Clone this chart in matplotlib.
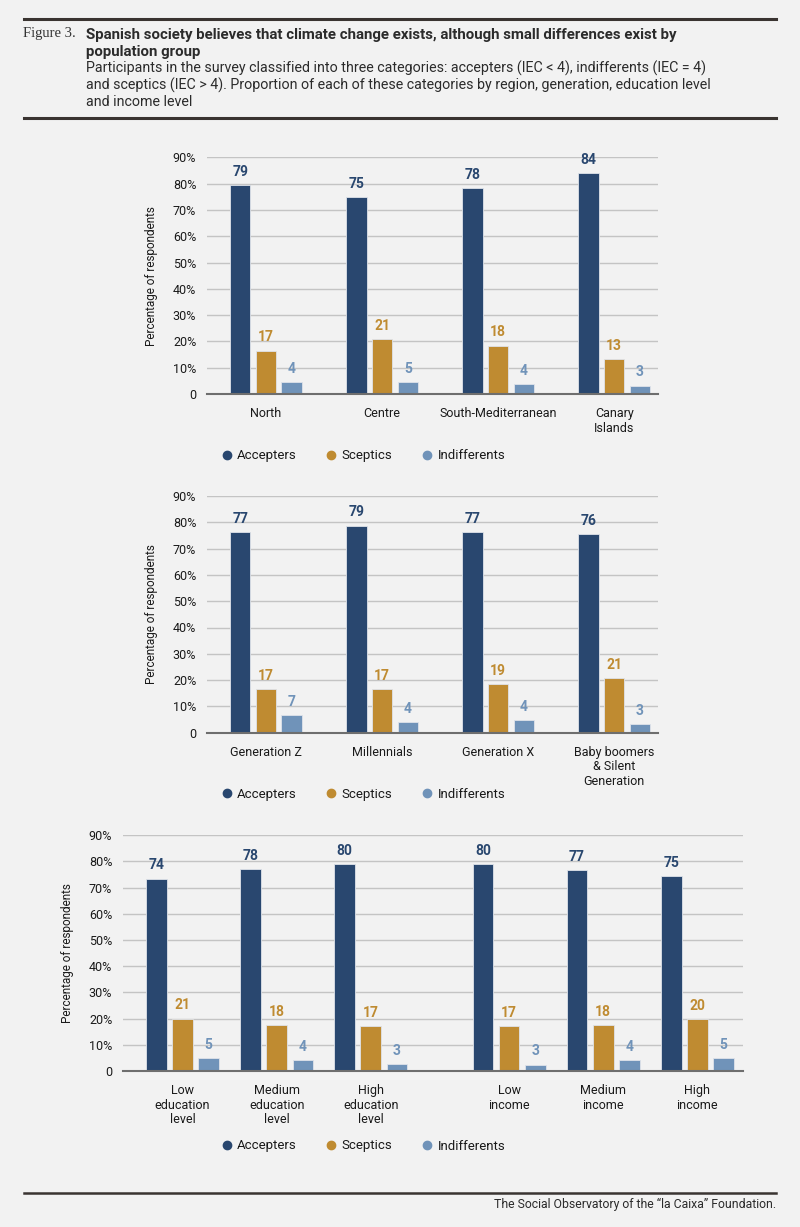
import numpy as np
import matplotlib.pyplot as plt
from matplotlib.lines import Line2D

# colours
c_acc = '#29476f'
c_sce = '#bf8b31'
c_ind = '#7093b9'
bg = '#f2f2f2'
series_names = ['Accepters', 'Sceptics', 'Indifferents']

# --- data (bar heights and the printed labels) ---
regions = ['North', 'Centre', 'South-Mediterranean', 'Canary\nIslands']
reg_acc = [79.5, 75.0, 78.2, 84.0]
reg_sce = [16.5, 20.8, 18.4, 13.4]
reg_ind = [4.4, 4.5, 3.8, 3.2]
reg_lab_acc = [79, 75, 78, 84]
reg_lab_sce = [17, 21, 18, 13]
reg_lab_ind = [4, 5, 4, 3]

generations = ['Generation Z', 'Millennials', 'Generation X',
               'Baby boomers\n& Silent\nGeneration']
gen_acc = [76.2, 78.7, 76.4, 75.5]
gen_sce = [16.6, 16.6, 18.5, 20.7]
gen_ind = [6.7, 4.1, 4.7, 3.2]
gen_lab_acc = [77, 79, 77, 76]
gen_lab_sce = [17, 17, 19, 21]
gen_lab_ind = [7, 4, 4, 3]

edu_inc = ['Low\neducation\nlevel', 'Medium\neducation\nlevel', 'High\neducation\nlevel',
           'Low\nincome', 'Medium\nincome', 'High\nincome']
ei_acc = [73.4, 77.1, 79.0, 79.0, 76.7, 74.3]
ei_sce = [20.0, 17.6, 17.1, 17.1, 17.6, 19.7]
ei_ind = [5.0, 4.1, 2.6, 2.4, 4.1, 5.0]
ei_lab_acc = [74, 78, 80, 80, 77, 75]
ei_lab_sce = [21, 18, 17, 17, 18, 20]
ei_lab_ind = [5, 4, 3, 3, 4, 5]

yticks = [0, 10, 20, 30, 40, 50, 60, 70, 80, 90]

plt.rcParams['font.family'] = ['Roboto', 'DejaVu Sans']

W, H = 800, 1227
fig = plt.figure(figsize=(W / 100, H / 100), dpi=100, facecolor=bg)


def px(x0, y0, x1, y1):
    # pixel box -> figure fraction rect
    return [x0 / W, 1 - y1 / H, (x1 - x0) / W, (y1 - y0) / H]


def draw_panel(rect, xpos, cats, vals, labs, width, step, xlim, leg_y):
    ax = fig.add_axes(rect)
    ax.set_facecolor(bg)
    xpos = np.asarray(xpos, dtype=float)
    colors = [c_acc, c_sce, c_ind]
    for k, (v, lab, col) in enumerate(zip(vals, labs, colors)):
        xs = xpos + (k - 1) * step
        bars = ax.bar(xs, v, width=width, color=col, edgecolor='#dfe3ea',
                      linewidth=0.6, zorder=3)
        for b, t in zip(bars, lab):
            ax.annotate(str(t), (b.get_x() + b.get_width() / 2, b.get_height()),
                        xytext=(0, 4.5), textcoords='offset points',
                        ha='center', va='bottom', fontsize=10, fontweight='bold',
                        color=col)
    ax.set_ylim(0, 90)
    ax.set_xlim(*xlim)
    ax.set_yticks(yticks)
    ax.set_yticklabels(['0' if t == 0 else f'{t}%' for t in yticks])
    ax.set_xticks(xpos)
    ax.set_xticklabels(cats, linespacing=1.15)
    ax.tick_params(axis='both', length=0, labelsize=9, colors='#1a1a1a')
    ax.tick_params(axis='y', pad=8)
    ax.tick_params(axis='x', pad=9.5)
    ax.grid(axis='y', color='#c4c4c4', linewidth=1, zorder=0)
    for s in ['top', 'right', 'left']:
        ax.spines[s].set_visible(False)
    ax.spines['bottom'].set_color('#6e6e6e')
    ax.spines['bottom'].set_linewidth(1.5)
    ax.spines['bottom'].set_zorder(4)
    ax.set_ylabel('Percentage of respondents', fontsize=8.5, color='#1a1a1a',
                  labelpad=11)
    handles = [Line2D([], [], marker='o', linestyle='', color=c, markersize=6)
               for c in colors]
    fig.legend(handles, series_names, loc='center', ncol=3, frameon=False,
               bbox_to_anchor=(364 / W, 1 - leg_y / H), fontsize=9.5,
               handlelength=0.6, handletextpad=0.5, columnspacing=2.3,
               labelcolor='#1a1a1a')
    return ax


# panel 1: regions
draw_panel(px(207.3, 157.3, 658.3, 394), np.arange(len(regions)), regions,
           [reg_acc, reg_sce, reg_ind], [reg_lab_acc, reg_lab_sce, reg_lab_ind],
           0.177, 0.222, (-0.505, 3.38), 455.7)

# panel 2: generations
draw_panel(px(207.3, 496, 658.3, 732.7), np.arange(len(generations)), generations,
           [gen_acc, gen_sce, gen_ind], [gen_lab_acc, gen_lab_sce, gen_lab_ind],
           0.177, 0.222, (-0.505, 3.38), 794.3)

# panel 3: education and income (gap between the two blocks)
pos3 = np.arange(len(edu_inc)) + np.where(np.arange(len(edu_inc)) >= 3, 0.47, 0)
draw_panel(px(123.3, 835.2, 742.7, 1071), pos3, edu_inc,
           [ei_acc, ei_sce, ei_ind], [ei_lab_acc, ei_lab_sce, ei_lab_ind],
           0.22, 0.278, (-0.63, 5.952), 1146)

# header
rule = '#3a3431'
fig.add_artist(Line2D([24 / W, 776 / W], [1 - 19 / H] * 2, color=rule, lw=2.2))
fig.add_artist(Line2D([24 / W, 776 / W], [1 - 118.3 / H] * 2, color=rule, lw=2.2))
fig.add_artist(Line2D([24 / W, 776 / W], [1 - 1193.3 / H] * 2, color=rule, lw=1.8))

fig.text(23 / W, 1 - 34 / H, 'Figure 3.', family=['Liberation Serif', 'DejaVu Serif'],
         fontsize=10.5, color='#333333', va='center', ha='left')
fig.text(86.5 / W, 1 - 43.5 / H,
         'Spanish society believes that climate change exists, although small differences exist by\npopulation group',
         fontsize=10.8, fontweight='bold', color='#2b2b2b', va='center', ha='left',
         linespacing=1.2)
fig.text(86.5 / W, 1 - 85 / H,
         'Participants in the survey classified into three categories: accepters (IEC < 4), indifferents (IEC = 4)\n'
         'and sceptics (IEC > 4). Proportion of each of these categories by region, generation, education level\n'
         'and income level',
         fontsize=10.3, color='#2b2b2b', va='center', ha='left', linespacing=1.15)

fig.text(776 / W, 1 - 1204.5 / H, 'The Social Observatory of the “la Caixa” Foundation.',
         fontsize=8.8, color='#2b2b2b', va='center', ha='right')

fig.savefig('out.png', dpi=100, facecolor=bg)
